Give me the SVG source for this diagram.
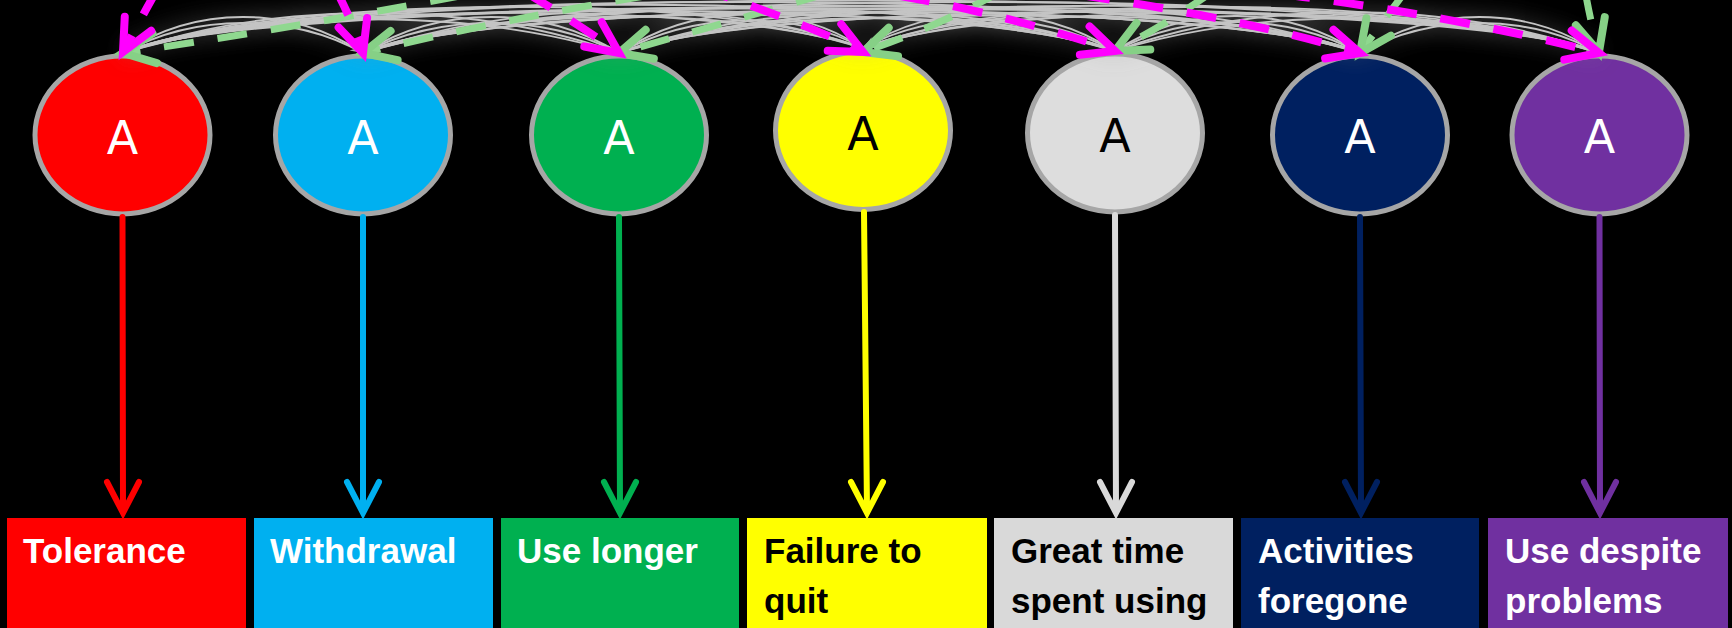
<svg xmlns="http://www.w3.org/2000/svg" width="1732" height="628" viewBox="0 0 1732 628">
<defs>
<style>
.box-t{font-family:"Liberation Sans",Arial,sans-serif;font-weight:bold;font-size:35px}
.lat{stroke:#A6A6A6;stroke-width:5}
.lat-t{font-family:"DejaVu Sans",sans-serif;font-size:46px;text-anchor:middle}
.gc{fill:none;stroke:#C4C4C4;stroke-width:1.8;marker-end:url(#mgray)}
.gd{fill:none;stroke:#8FD88F;stroke-width:7;stroke-dasharray:30 24;marker-end:url(#mgreen)}
.md{fill:none;stroke:#FF00FF;stroke-width:8;stroke-dasharray:30 24;marker-end:url(#mmag)}
.va{fill:none;stroke-width:6;stroke-linecap:round;stroke-linejoin:miter}
</style>
<marker id="mgray" markerUnits="userSpaceOnUse" viewBox="-14 -6 16 12" markerWidth="16" markerHeight="12" refX="0" refY="0" orient="auto" overflow="visible">
<path d="M0,0 L-13,-4.5 L-9,0 L-13,4.5 Z" fill="#A8A8A8"/>
</marker>
<marker id="mgreen" markerUnits="userSpaceOnUse" viewBox="-40 -20 44 40" markerWidth="44" markerHeight="40" refX="0" refY="0" orient="auto" overflow="visible">
<path d="M-32,-15 L0,0 L-32,15" fill="none" stroke="#86D086" stroke-width="8" stroke-linecap="round"/>
</marker>
<marker id="mmag" markerUnits="userSpaceOnUse" viewBox="-40 -20 44 40" markerWidth="44" markerHeight="40" refX="0" refY="0" orient="auto" overflow="visible">
<path d="M-32,-15 L0,0 L-32,15" fill="none" stroke="#FF00FF" stroke-width="8" stroke-linecap="round"/>
</marker>
<filter id="glow" x="-5%" y="-100%" width="110%" height="300%">
<feGaussianBlur in="SourceAlpha" stdDeviation="11" result="b"/>
<feFlood flood-color="#8A8A8A" flood-opacity="0.6"/>
<feComposite in2="b" operator="in"/>
<feMerge><feMergeNode/><feMergeNode in="SourceGraphic"/></feMerge>
</filter>
</defs>
<rect width="1732" height="628" fill="#000"/>

<g id="box-tolerance"><rect x="7" y="518" width="239" height="110" fill="#FF0000"/><text class="box-t" x="23" y="563" fill="#fff">Tolerance</text></g>
<g id="box-withdrawal"><rect x="254" y="518" width="239" height="110" fill="#00B0F0"/><text class="box-t" x="270" y="563" fill="#fff">Withdrawal</text></g>
<g id="box-uselonger"><rect x="501" y="518" width="238" height="110" fill="#00B050"/><text class="box-t" x="517" y="563" fill="#fff">Use longer</text></g>
<g id="box-failure"><rect x="747" y="518" width="240" height="110" fill="#FFFF00"/><text class="box-t" x="764" y="563" fill="#000">Failure to</text><text class="box-t" x="764" y="613" fill="#000">quit</text></g>
<g id="box-greattime"><rect x="994" y="518" width="239" height="110" fill="#D9D9D9"/><text class="box-t" x="1011" y="563" fill="#000">Great time</text><text class="box-t" x="1011" y="613" fill="#000">spent using</text></g>
<g id="box-activities"><rect x="1241" y="518" width="238" height="110" fill="#002060"/><text class="box-t" x="1258" y="563" fill="#fff">Activities</text><text class="box-t" x="1258" y="613" fill="#fff">foregone</text></g>
<g id="box-despite"><rect x="1488" y="518" width="240" height="110" fill="#7030A0"/><text class="box-t" x="1505" y="563" fill="#fff">Use despite</text><text class="box-t" x="1505" y="613" fill="#fff">problems</text></g>

<g id="lat-1"><ellipse class="lat" cx="122.5" cy="135" rx="87.5" ry="79" fill="#FF0000"/><text class="lat-t" x="122.5" y="154" fill="#fff">A</text></g>
<g id="lat-2"><ellipse class="lat" cx="363" cy="135" rx="87.5" ry="79" fill="#00B0F0"/><text class="lat-t" x="363" y="154" fill="#fff">A</text></g>
<g id="lat-3"><ellipse class="lat" cx="619" cy="135" rx="87.5" ry="79" fill="#00B050"/><text class="lat-t" x="619" y="154" fill="#fff">A</text></g>
<g id="lat-4"><ellipse class="lat" cx="863" cy="130.5" rx="87.5" ry="79" fill="#FFFF00"/><text class="lat-t" x="863" y="150" fill="#000">A</text></g>
<g id="lat-5"><ellipse class="lat" cx="1115" cy="133" rx="87.5" ry="79" fill="#DDDDDD"/><text class="lat-t" x="1115" y="152" fill="#000">A</text></g>
<g id="lat-6"><ellipse class="lat" cx="1360" cy="135" rx="87.5" ry="79" fill="#002060"/><text class="lat-t" x="1360" y="153" fill="#fff">A</text></g>
<g id="lat-7"><ellipse class="lat" cx="1599.5" cy="135" rx="87.5" ry="79" fill="#7030A0"/><text class="lat-t" x="1599.5" y="153" fill="#fff">A</text></g>

<g id="connectors">
<g id="loadings">
<path class="va" stroke="#FF0000" d="M122.5,217 L123,510 M107,482 L123,513 L139,482"/>
<path class="va" stroke="#00B0F0" d="M363,217 L363,510 M347,482 L363,513 L379,482"/>
<path class="va" stroke="#00B050" d="M619,217 L620,510 M604,482 L620,513 L636,482"/>
<path class="va" stroke="#FFFF00" d="M864,212 L867,510 M851,482 L867,513 L883,482"/>
<path class="va" stroke="#D9D9D9" d="M1115,215 L1116,510 M1100,482 L1116,513 L1132,482"/>
<path class="va" stroke="#002060" d="M1360,217 L1361,510 M1345,482 L1361,513 L1377,482"/>
<path class="va" stroke="#7030A0" d="M1599.5,217 L1600,510 M1584,482 L1600,513 L1616,482"/>
</g>
<g id="network" filter="url(#glow)">
<path class="gc" d="M123,53 C195,13 291,13 363,53"/>
<path class="gc" d="M123,53 C272,8 470,8 619,53"/>
<path class="gc" d="M123,53 C273,3 713,-2 863,48"/>
<path class="gc" d="M123,53 C273,-2 965,-4 1115,51"/>
<path class="gc" d="M123,53 C273,-7 1210,-7 1360,53"/>
<path class="gc" d="M123,53 C273,-9 1449,-9 1599,53"/>
<path class="gc" d="M363,53 C440,13 542,13 619,53"/>
<path class="gc" d="M363,53 C513,8 713,3 863,48"/>
<path class="gc" d="M363,53 C513,3 965,1 1115,51"/>
<path class="gc" d="M363,53 C513,-2 1210,-2 1360,53"/>
<path class="gc" d="M363,53 C513,-7 1449,-7 1599,53"/>
<path class="gc" d="M619,53 C692,13 790,8 863,48"/>
<path class="gc" d="M619,53 C768,8 966,6 1115,51"/>
<path class="gc" d="M619,53 C769,3 1210,3 1360,53"/>
<path class="gc" d="M619,53 C769,-2 1449,-2 1599,53"/>
<path class="gc" d="M863,48 C939,8 1039,11 1115,51"/>
<path class="gc" d="M863,48 C1012,3 1211,8 1360,53"/>
<path class="gc" d="M863,48 C1013,-2 1449,3 1599,53"/>
<path class="gc" d="M1115,51 C1189,11 1286,13 1360,53"/>
<path class="gc" d="M1115,51 C1260,6 1454,8 1599,53"/>
<path class="gc" d="M1360,53 C1432,13 1527,13 1599,53"/>
<path class="gc" d="M363,53 C291,5 195,5 123,53"/>
<path class="gc" d="M619,53 C470,0 272,0 123,53"/>
<path class="gc" d="M863,48 C713,-10 273,-5 123,53"/>
<path class="gc" d="M1115,51 C965,-12 273,-10 123,53"/>
<path class="gc" d="M1360,53 C1210,-15 273,-15 123,53"/>
<path class="gc" d="M1599,53 C1449,-17 273,-17 123,53"/>
<path class="gc" d="M619,53 C542,5 440,5 363,53"/>
<path class="gc" d="M863,48 C713,-5 513,0 363,53"/>
<path class="gc" d="M1115,51 C965,-7 513,-5 363,53"/>
<path class="gc" d="M1360,53 C1210,-10 513,-10 363,53"/>
<path class="gc" d="M1599,53 C1449,-15 513,-15 363,53"/>
<path class="gc" d="M863,48 C790,0 692,5 619,53"/>
<path class="gc" d="M1115,51 C966,-2 768,0 619,53"/>
<path class="gc" d="M1360,53 C1210,-5 769,-5 619,53"/>
<path class="gc" d="M1599,53 C1449,-10 769,-10 619,53"/>
<path class="gc" d="M1115,51 C1039,3 939,0 863,48"/>
<path class="gc" d="M1360,53 C1211,0 1012,-5 863,48"/>
<path class="gc" d="M1599,53 C1449,-5 1013,-10 863,48"/>
<path class="gc" d="M1360,53 C1286,5 1189,3 1115,51"/>
<path class="gc" d="M1599,53 C1454,0 1260,-2 1115,51"/>
<path class="gc" d="M1599,53 C1527,5 1432,5 1360,53"/>
</g>
<g id="green-paths">
<path class="gd" d="M460,-4 Q280,30 123,53"/>
<path class="gd" d="M645,-4 Q500,20 363,53"/>
<path class="gd" d="M825,-6 Q700,30 619,53"/>
<path class="gd" d="M1000,-8 Q930,30 863,52"/>
<path class="gd" d="M1212,-8 Q1165,25 1115,51"/>
<path class="gd" d="M1405,-8 Q1380,25 1360,53"/>
<path class="gd" d="M1585,-10 Q1590,20 1599,52"/>
</g>
<g id="magenta-paths">
<path class="md" d="M158,-12 Q140,20 123,52"/>
<path class="md" d="M335,-12 Q352,20 363,53"/>
<path class="md" d="M525,-8 Q580,25 619,53"/>
<path class="md" d="M700,-12 Q810,25 863,52"/>
<path class="md" d="M900,-4 Q1010,15 1115,51"/>
<path class="md" d="M1080,-5 Q1240,18 1360,53"/>
<path class="md" d="M1280,-6 Q1450,15 1599,53"/>
</g>
</g>
</svg>
